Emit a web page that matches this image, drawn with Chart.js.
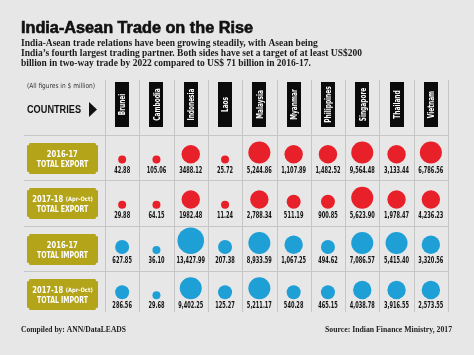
<!DOCTYPE html>
<html><head><meta charset="utf-8">
<script src="https://cdn.jsdelivr.net/npm/chart.js@4.4.1/dist/chart.umd.min.js"></script>
<style>html,body{margin:0;padding:0;background:#e7e7e7;overflow:hidden}canvas{display:block}</style>
</head><body><canvas id="c" width="474" height="355"></canvas>
<script>
// ---------- data ----------
const countries = ['Brunei','Cambodia','Indonesia','Laos','Malaysia','Myanmar','Philippines','Singapore','Thailand','Vietnam'];
const rowLabels = ['2016-17 TOTAL EXPORT','2017-18 TOTAL EXPORT','2016-17 TOTAL IMPORT','2017-18 TOTAL IMPORT'];
const rowYears = ['2016-17','2017-18','2016-17','2017-18'];
const rowPeriods = ['','(Apr-Oct)','','(Apr-Oct)'];
const rowKinds = ['TOTAL EXPORT','TOTAL EXPORT','TOTAL IMPORT','TOTAL IMPORT'];

const export201617 = [42.88,105.06,3488.12,25.72,5244.86,1107.89,1482.52,9564.48,3133.44,6786.56];
const export201718 = [29.88,64.15,1982.48,11.24,2788.34,511.19,900.85,5623.90,1978.47,4236.23];
const import201617 = [627.85,36.10,13427.99,207.38,8933.59,1067.25,494.62,7086.57,5415.40,3320.56];
const import201718 = [286.56,29.68,9402.25,125.27,5211.17,540.28,465.15,4038.78,3916.55,2573.55];

const export201617Text = ['42.88','105.06','3488.12','25.72','5,244.86','1,107.89','1,482.52','9,564.48','3,133.44','6,786.56'];
const export201718Text = ['29.88','64.15','1982.48','11.24','2,788.34','511.19','900.85','5,623.90','1,978.47','4,236.23'];
const import201617Text = ['627.85','36.10','13,427.99','207.38','8,933.59','1,067.25','494.62','7,086.57','5,415.40','3,320.56'];
const import201718Text = ['286.56','29.68','9,402.25','125.27','5,211.17','540.28','465.15','4,038.78','3,916.55','2,573.55'];

// bubble size classes ($ million thresholds -> radius)
const sizeThresholds = [110, 1000, 4300, 10000];
const sizeRadii = [4, 7, 9.2, 11, 13.3];

const rowValues = [export201617, export201718, import201617, import201718];
const rowTexts = [export201617Text, export201718Text, import201617Text, import201718Text];
const rowColors = ['#e8202a','#e8202a','#1e9fd6','#1e9fd6'];

function radiusFor(v){
  let k = 0;
  while (k < sizeThresholds.length && v >= sizeThresholds[k]) k++;
  return sizeRadii[k];
}

// ---------- drawing helpers ----------
const NARROW = '"Liberation Sans Narrow","DejaVu Sans Condensed","Liberation Sans",sans-serif';
const SANS = '"Liberation Sans",Arial,sans-serif';
const SERIF = '"Liberation Serif","DejaVu Serif",serif';
const BG = '#e7e7e7', GRID = '#c6c6c6', OLIVE = '#b3a41a';

function txt(ctx, s, x, y, font, color, align, sx){
  ctx.save();
  ctx.font = font; ctx.fillStyle = color; ctx.textAlign = 'left'; ctx.textBaseline = 'alphabetic';
  const m = ctx.measureText(s).width * (sx || 1);
  const x0 = align === 'center' ? x - m/2 : align === 'right' ? x - m : x;
  ctx.translate(x0, y); ctx.scale(sx || 1, 1);
  ctx.fillText(s, 0, 0);
  ctx.restore();
  return m;
}
function fitScale(ctx, s, font, w){ ctx.save(); ctx.font = font; const m = ctx.measureText(s).width; ctx.restore(); return w / m; }

function ticket(ctx, x, y, w, h, r){
  ctx.beginPath();
  ctx.moveTo(x + r, y);
  ctx.lineTo(x + w - r, y);
  ctx.arc(x + w, y, r, Math.PI, Math.PI/2, true);
  ctx.lineTo(x + w, y + h - r);
  ctx.arc(x + w, y + h, r, -Math.PI/2, Math.PI, true);
  ctx.lineTo(x + r, y + h);
  ctx.arc(x, y + h, r, 0, -Math.PI/2, true);
  ctx.lineTo(x, y + r);
  ctx.arc(x, y, r, Math.PI/2, 0, true);
  ctx.closePath();
}

const BUBBLE_BASE = 28.5, LABEL_BASE = 37.5;

const decor = {
  id: 'decor',
  afterDatasetsUpdate(chart){
    const ys = chart.scales.y;
    const rowH = ys.height / rowLabels.length;
    chart.data.datasets.forEach((ds, di) => {
      const meta = chart.getDatasetMeta(di);
      const top = ys.getPixelForValue(di) - rowH/2;
      meta.data.forEach(el => { el.y = top + BUBBLE_BASE - el.options.radius; });
    });
  },
  beforeDraw(chart){
    const ctx = chart.ctx, a = chart.chartArea;
    const xs = chart.scales.x, ys = chart.scales.y;
    ctx.save();
    ctx.fillStyle = BG; ctx.fillRect(0, 0, chart.width, chart.height);
    ctx.strokeStyle = GRID; ctx.lineWidth = 1;
    const colW = xs.width / countries.length;
    for (let k = 0; k <= countries.length; k++){
      const x = Math.round(a.left + k*colW) + 0.5;
      ctx.beginPath(); ctx.moveTo(x, 80); ctx.lineTo(x, 312); ctx.stroke();
    }
    const rowH = ys.height / rowLabels.length;
    for (let k = 0; k < rowLabels.length; k++){
      const y = Math.round(a.top + k*rowH) + 0.5;
      ctx.beginPath(); ctx.moveTo(24, y); ctx.lineTo(a.right, y); ctx.stroke();
    }
    ctx.restore();
  },
  afterDraw(chart){
    const ctx = chart.ctx, a = chart.chartArea;
    const xs = chart.scales.x, ys = chart.scales.y;
    const rowH = ys.height / rowLabels.length;

    // title
    ctx.save();
    const tf = 'bold 16px ' + SANS;
    const ts = fitScale(ctx, 'India-Asean Trade on the Rise', tf, 232);
    ctx.font = tf; ctx.fillStyle = '#111'; ctx.strokeStyle = '#111'; ctx.lineWidth = 0.6;
    ctx.translate(21, 33); ctx.scale(ts, 1);
    ctx.fillText('India-Asean Trade on the Rise', 0, 0); ctx.strokeText('India-Asean Trade on the Rise', 0, 0);
    ctx.restore();

    // subtitle
    const sub = ['India-Asean trade relations have been growing steadily, with Asean being',
                 'India\u2019s fourth largest trading partner. Both sides have set a target of at least US$200',
                 'billion in two-way trade by 2022 compared to US$ 71 billion in 2016-17.'];
    const sf = 'bold 10.5px ' + SERIF;
    const ss = fitScale(ctx, sub[1], sf, 341);
    sub.forEach((s, i) => txt(ctx, s, 21, 45.5 + i*10.2, sf, '#1a1a1a', 'left', ss));

    // header left
    txt(ctx, '(All figures in $ million)', 27, 87.5, '7px ' + NARROW, '#333', 'left', fitScale(ctx, '(All figures in $ million)', '7px ' + NARROW, 68));
    txt(ctx, 'COUNTRIES', 27, 113.3, 'bold 10px ' + SANS, '#111', 'left', fitScale(ctx, 'COUNTRIES', 'bold 10px ' + SANS, 54));
    ctx.save(); ctx.fillStyle = '#111';
    ctx.beginPath(); ctx.moveTo(89, 102); ctx.lineTo(97, 109.5); ctx.lineTo(89, 117); ctx.closePath(); ctx.fill();
    ctx.restore();

    // country headers
    const hf = 'bold 9.5px ' + NARROW;
    const hs = fitScale(ctx, 'Indonesia', hf, 32);
    countries.forEach((c, i) => {
      const cx = xs.getPixelForValue(i);
      ctx.save();
      ctx.fillStyle = '#0b0b0b';
      ctx.fillRect(Math.round(cx) - 7, 82, 14, 45);
      ctx.translate(cx + 3.3, 104.5); ctx.rotate(-Math.PI/2);
      txt(ctx, c, 0, 0, hf, '#ffffff', 'center', hs);
      ctx.restore();
    });

    // row label boxes
    const yf = 'bold 9.5px ' + NARROW, kf = 'bold 8px ' + NARROW, pf = 'bold 6px ' + NARROW;
    const ysx = fitScale(ctx, '2016-17', yf, 31);
    const ksx = fitScale(ctx, 'TOTAL EXPORT', kf, 51.6);
    const psx = fitScale(ctx, '(Apr-Oct)', pf, 27);
    rowLabels.forEach((lab, r) => {
      const top = ys.getPixelForValue(r) - rowH/2;
      const bt = Math.round(top + 8);
      ctx.save(); ctx.fillStyle = OLIVE; ticket(ctx, 27, bt, 71, 31, 2.5); ctx.fill(); ctx.restore();
      if (rowPeriods[r]){
        ctx.save(); ctx.font = yf; const m1 = ctx.measureText(rowYears[r]).width*ysx; ctx.font = pf; const m2 = ctx.measureText(rowPeriods[r]).width*psx; ctx.restore();
        const tot = m1 + 2.5 + m2; const x0 = 62.5 - tot/2;
        txt(ctx, rowYears[r], x0, bt + 13.7, yf, '#fff', 'left', ysx);
        txt(ctx, rowPeriods[r], x0 + m1 + 2.5, bt + 13.2, pf, '#fff', 'left', psx);
      } else {
        txt(ctx, rowYears[r], 62.3, bt + 13.7, yf, '#fff', 'center', ysx);
      }
      txt(ctx, rowKinds[r], 62.5, bt + 23.7, kf, '#fff', 'center', ksx);
    });

    // value labels
    const vf = 'bold 8.5px ' + NARROW;
    const vs = fitScale(ctx, '5,244.86', vf, 25);
    rowTexts.forEach((texts, r) => {
      const top = ys.getPixelForValue(r) - rowH/2;
      texts.forEach((t, i) => txt(ctx, t, xs.getPixelForValue(i), top + LABEL_BASE, vf, '#111', 'center', vs));
    });

    // footer
    const ff = 'bold 8px ' + SERIF;
    txt(ctx, 'Compiled by: ANN/DataLEADS', 21, 331.5, ff, '#222', 'left', fitScale(ctx, 'Compiled by: ANN/DataLEADS', ff, 105));
    txt(ctx, 'Source: Indian Finance Ministry, 2017', 452, 331.5, ff, '#222', 'right', fitScale(ctx, 'Source: Indian Finance Ministry, 2017', ff, 127));
  }
};

new Chart(document.getElementById('c'), {
  type: 'bubble',
  data: {
    datasets: rowValues.map((vals, r) => ({
      label: rowLabels[r],
      data: vals.map((v, i) => ({ x: countries[i], y: rowLabels[r], r: radiusFor(v) })),
      backgroundColor: rowColors[r],
      borderWidth: 0,
      hoverBorderWidth: 0
    }))
  },
  options: {
    responsive: false,
    animation: false,
    devicePixelRatio: 1,
    events: [],
    layout: { padding: { left: 105, right: 26, top: 135, bottom: 39 } },
    scales: {
      x: { type: 'category', labels: countries, offset: true, display: false },
      y: { type: 'category', labels: rowLabels, offset: true, display: false }
    },
    plugins: { legend: { display: false }, tooltip: { enabled: false }, title: { display: false } }
  },
  plugins: [decor]
});
</script>
</body></html>
